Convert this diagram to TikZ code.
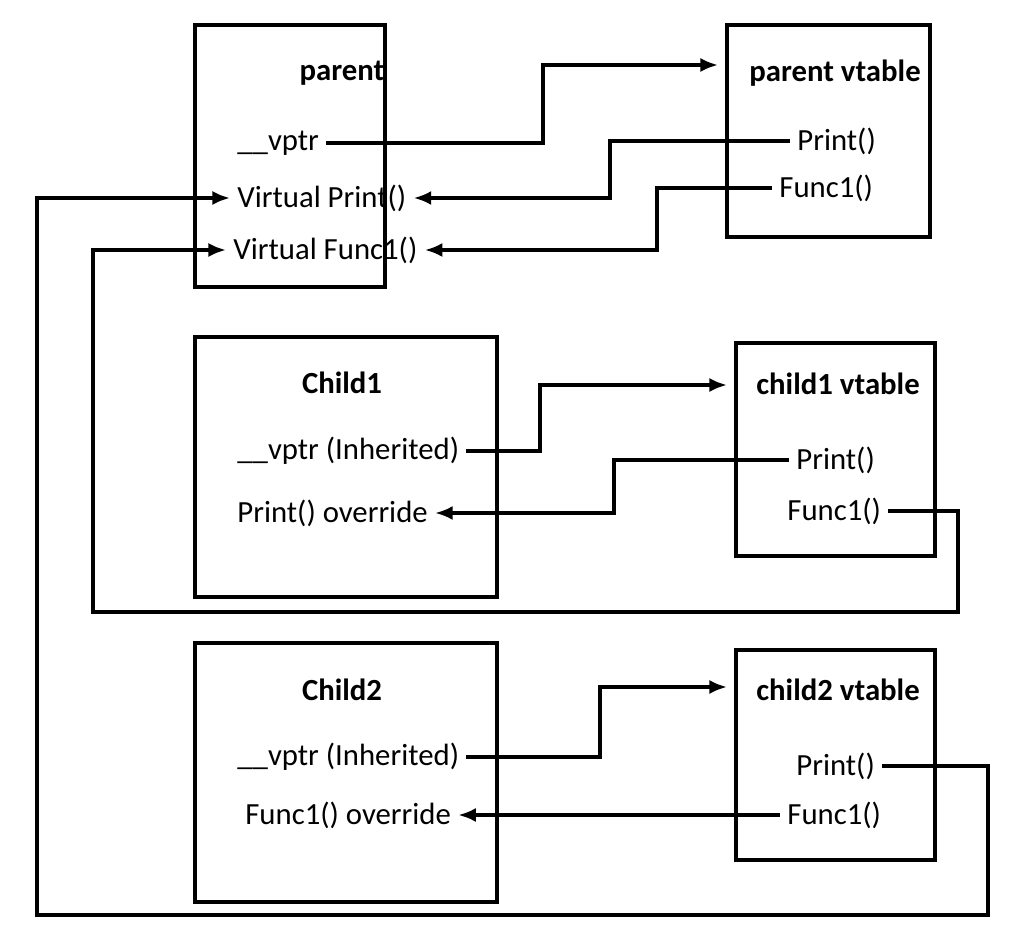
\documentclass[tikz,border=0pt]{standalone}
\usepackage{fontspec}
\setmainfont{Carlito}
\usetikzlibrary{arrows.meta}
\tikzset{
  box/.style={draw, line width=2.2pt},
  item/.style={anchor=west, inner sep=4pt, font=\fontsize{17.5}{20}\selectfont},
  title/.style={anchor=center, inner sep=4pt, font=\fontsize{17.5}{20}\selectfont\bfseries},
  link/.style={line width=1.9pt, -{Latex[length=10pt,width=8pt]}},
}
\begin{document}
\begin{tikzpicture}[x=0.02cm,y=-0.02cm]
  \useasboundingbox (0,0) rectangle (1024,932);
  % boxes
  \draw [box] (195,25) rectangle (385,287);
  \draw [box] (727,25) rectangle (930,237);
  \draw [box] (195,337) rectangle (497,597);
  \draw [box] (736,343) rectangle (935,556);
  \draw [box] (195,643) rectangle (497,902);
  \draw [box] (736,650) rectangle (935,860);
  % parent
  \node [title] (parent) at (342,73) {parent};
  \node [item] (pvptr) at (230,143) {\_\_vptr};
  \node [item] (pprint) at (230,198) {Virtual Print()};
  \node [item] (pfunc) at (226,250) {Virtual Func1()};
  \node [title] (pvt) at (835,73) {parent vtable};
  \node [item] (pvtprint) at (790,141) {Print()};
  \node [item] (pvtfunc) at (772,188) {Func1()};
  % child1
  \node [title] (child1) at (342,383) {Child1};
  \node [item] (c1vptr) at (230,451) {\_\_vptr (Inherited)};
  \node [item] (c1print) at (230,513) {Print() override};
  \node [title] (c1vt) at (838,384) {child1 vtable};
  \node [item] (c1vtprint) at (789,460) {Print()};
  \node [item] (c1vtfunc) at (780,511) {Func1()};
  % child2
  \node [title] (child2) at (342,690) {Child2};
  \node [item] (c2vptr) at (230,757) {\_\_vptr (Inherited)};
  \node [item] (c2func) at (238,815) {Func1() override};
  \node [title] (c2vt) at (838,690) {child2 vtable};
  \node [item] (c2vtprint) at (789,766) {Print()};
  \node [item] (c2vtfunc) at (780,815) {Func1()};
  % connectors
  \draw [link] (pvptr.east) -- (543,143) |- (718,65);
  \draw [link] (pvtprint.west) -- (610,141) |- (pprint.east);
  \draw [link] (pvtfunc.west) -- (657,188) |- (pfunc.east);
  \draw [link] (c1vptr.east) -- (540,451) |- (727,385);
  \draw [link] (c1vtprint.west) -- (614,460) |- (c1print.east);
  \draw [link] (c1vtfunc.east) -- (958,511) -- (958,612) -- (93,612) |- (pfunc.west);
  \draw [link] (c2vptr.east) -- (600,757) |- (727,687);
  \draw [link] (c2vtfunc.west) -- (c2func.east);
  \draw [link] (c2vtprint.east) -- (988,766) -- (988,915) -- (37,915) |- (pprint.west);
\end{tikzpicture}
\end{document}
